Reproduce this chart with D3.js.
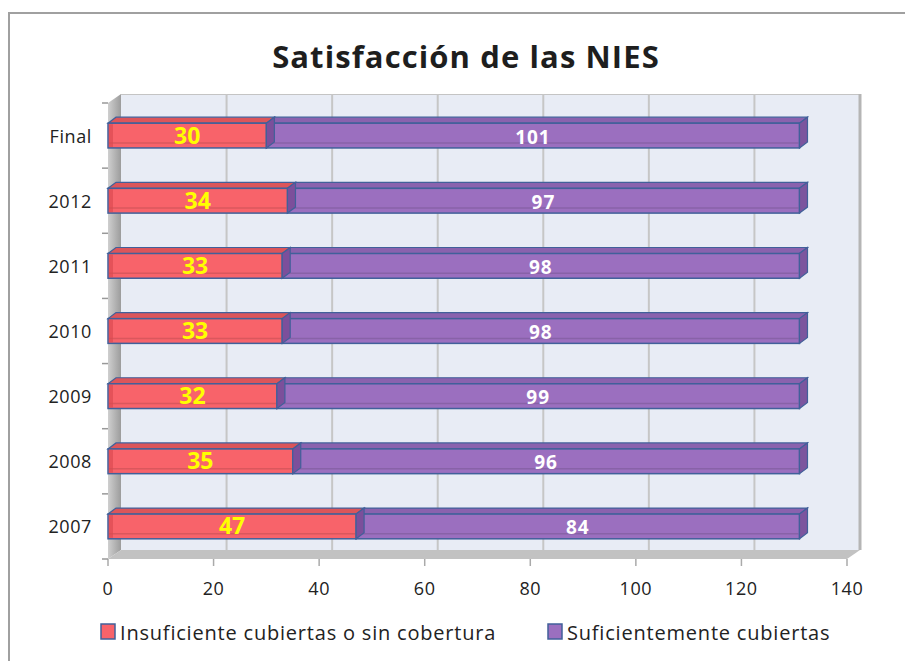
<!DOCTYPE html>
<meta charset="utf-8">
<style>
  body { margin: 0; background: #fff; }
  text { font-family: "Open Sans", sans-serif; }
</style>
<svg width="905" height="661"></svg>
<script src="https://d3js.org/d3.v7.min.js"></script>
<script>

    var categories = ["Final", "2012", "2011", "2010", "2009", "2008", "2007"];
    var insuficiente = [30, 34, 33, 33, 32, 35, 47];
    var suficiente = [101, 97, 98, 98, 99, 96, 84];
    var xTicks = [0, 20, 40, 60, 80, 100, 120, 140];
    var seriesNames = ["Insuficiente cubiertas o sin cobertura", "Suficientemente cubiertas"];

    var svg = d3.select("svg");

    // outer chart frame (runs off the right/bottom edge)
    svg.append("rect")
        .attr("x", 9).attr("y", 13)
        .attr("width", 920).attr("height", 700)
        .attr("fill", "#fff").attr("stroke", "#a0a0a0").attr("stroke-width", 2);

    svg.append("text")
        .attr("x", 466).attr("y", 68)
        .attr("text-anchor", "middle")
        .attr("font-size", 31).attr("font-weight", "bold")
        .attr("letter-spacing", 1.1)
        .attr("fill", "#1e1e1e")
        .text("Satisfacción de las NIES");

    var x = d3.scaleLinear().domain([0, 140]).range([108, 847]);
    var y = d3.scaleBand().domain(categories)
        .range([103, 559]).paddingInner(0.62).paddingOuter(0.31);

    var dx = 13, dy = -9;   // depth of the walls
    var bx = 8, by = -6;    // depth of the bars
    var plotTop = 103, plotBottom = 559;

    // back wall
    svg.append("rect")
        .attr("x", x(0) + dx).attr("y", plotTop + dy)
        .attr("width", x(140) - x(0)).attr("height", plotBottom - plotTop)
        .attr("fill", "#e8ecf5");
    svg.append("line")
        .attr("x1", x(0) + dx).attr("x2", x(140) + dx)
        .attr("y1", plotTop + dy + 0.5).attr("y2", plotTop + dy + 0.5)
        .attr("stroke", "#c4c4c4");
    svg.append("g").selectAll("line")
        .data(xTicks.slice(1))
        .join("line")
        .attr("x1", d => x(d) + dx).attr("x2", d => x(d) + dx)
        .attr("y1", plotTop + dy).attr("y2", plotBottom + dy)
        .attr("stroke", d => d === 140 ? "#b5b5b5" : "#c6c6c6")
        .attr("stroke-width", d => d === 140 ? 3 : 2);

    var grad = svg.append("defs").append("linearGradient").attr("id", "side")
        .attr("x1", 0).attr("x2", 1).attr("y1", 0).attr("y2", 0);
    grad.append("stop").attr("offset", 0).attr("stop-color", "#cfcfcf");
    grad.append("stop").attr("offset", 1).attr("stop-color", "#9c9c9c");

    // left side wall
    svg.append("path")
        .attr("d", "M" + x(0) + "," + plotTop + "L" + (x(0) + dx) + "," + (plotTop + dy) +
            "L" + (x(0) + dx) + "," + (plotBottom + dy) + "L" + x(0) + "," + plotBottom + "Z")
        .attr("fill", "url(#side)");
    // floor
    svg.append("path")
        .attr("d", "M" + x(0) + "," + plotBottom + "L" + (x(0) + dx) + "," + (plotBottom + dy) +
            "L" + (x(140) + dx) + "," + (plotBottom + dy) + "L" + x(140) + "," + plotBottom + "Z")
        .attr("fill", "#c2c2c2");

    // axes ticks
    svg.append("g").selectAll("line")
        .data(xTicks)
        .join("line")
        .attr("x1", d => x(d)).attr("x2", d => x(d))
        .attr("y1", plotBottom).attr("y2", plotBottom + 7)
        .attr("stroke", "#aaa").attr("stroke-width", 1.5);
    svg.append("g").selectAll("text")
        .data(xTicks)
        .join("text")
        .attr("x", d => x(d)).attr("y", 595)
        .attr("text-anchor", "middle")
        .attr("font-size", 18).attr("letter-spacing", 0.6).attr("fill", "#222")
        .text(d => d);

    var bounds = categories.map(c => y(c) - y.step() * 0.31).concat([plotBottom]);
    svg.append("g").selectAll("line")
        .data(bounds)
        .join("line")
        .attr("x1", x(0) - 6).attr("x2", x(0))
        .attr("y1", d => d).attr("y2", d => d)
        .attr("stroke", "#999").attr("stroke-width", 1.5);
    svg.append("g").selectAll("text")
        .data(categories)
        .join("text")
        .attr("x", 92).attr("y", d => y(d) + y.bandwidth() / 2 + 7)
        .attr("text-anchor", "end")
        .attr("font-size", 18).attr("letter-spacing", 0.6).attr("fill", "#222")
        .text(d => d);

    // bars
    var h = y.bandwidth();
    var outline = "#41609a";
    function box(g, x0, x1, yy, front, topc, side) {
        g.append("path")
            .attr("d", "M" + x0 + "," + yy + "L" + (x0 + bx) + "," + (yy + by) +
                "L" + (x1 + bx) + "," + (yy + by) + "L" + x1 + "," + yy + "Z")
            .attr("fill", topc).attr("stroke", outline).attr("stroke-width", 1.2);
        g.append("rect")
            .attr("x", x0).attr("y", yy).attr("width", x1 - x0).attr("height", h)
            .attr("fill", front).attr("stroke", outline).attr("stroke-width", 1.5);
        g.append("line")
            .attr("x1", x0 + 1).attr("x2", x1 - 1)
            .attr("y1", yy + h - 5).attr("y2", yy + h - 5)
            .attr("stroke", d3.color(front).darker(0.6)).attr("stroke-width", 1.5)
            .attr("opacity", 0.6);
        g.append("path")
            .attr("d", "M" + x1 + "," + yy + "L" + (x1 + bx) + "," + (yy + by) +
                "L" + (x1 + bx) + "," + (yy + by + h) + "L" + x1 + "," + (yy + h) + "Z")
            .attr("fill", side).attr("stroke", outline).attr("stroke-width", 1.2);
    }

    var bars = svg.append("g");
    categories.forEach(function (c, i) {
        var g = bars.append("g");
        var yy = y(c);
        box(g, x(insuficiente[i]), x(insuficiente[i] + suficiente[i]), yy,
            "#9b6fbf", "#8a62ae", "#7c559e");
        box(g, x(0), x(insuficiente[i]), yy, "#f8636a", "#dc555a", "#7c4f9b");
        // left end cap
        g.append("rect").attr("x", x(0) + 1).attr("y", yy + 1).attr("width", 4).attr("height", h - 2)
            .attr("fill", "#d9484f").attr("opacity", 0.6);

        g.append("text")
            .attr("x", (x(0) + x(insuficiente[i])) / 2).attr("y", yy + h / 2 + 8)
            .attr("text-anchor", "middle")
            .attr("font-size", 23).attr("font-weight", "bold").attr("fill", "#ffff00")
            .text(insuficiente[i]);
        g.append("text")
            .attr("x", (x(insuficiente[i]) + x(insuficiente[i] + suficiente[i])) / 2)
            .attr("y", yy + h / 2 + 8)
            .attr("text-anchor", "middle")
            .attr("font-size", 19).attr("font-weight", "bold").attr("letter-spacing", 1)
            .attr("fill", "#fff")
            .text(suficiente[i]);
    });

    // legend
    var legend = [
        {name: seriesNames[0], color: "#f8636a", x: 101, tx: 120},
        {name: seriesNames[1], color: "#9b6fbf", x: 548, tx: 567}
    ];
    var lg = svg.append("g").selectAll("g").data(legend).join("g");
    lg.append("rect")
        .attr("x", d => d.x).attr("y", 624).attr("width", 14).attr("height", 15)
        .attr("fill", d => d.color).attr("stroke", outline).attr("stroke-width", 1.5);
    lg.append("text")
        .attr("x", d => d.tx).attr("y", 640)
        .attr("font-size", 20).attr("letter-spacing", 0.8).attr("fill", "#222")
        .text(d => d.name);

</script>
